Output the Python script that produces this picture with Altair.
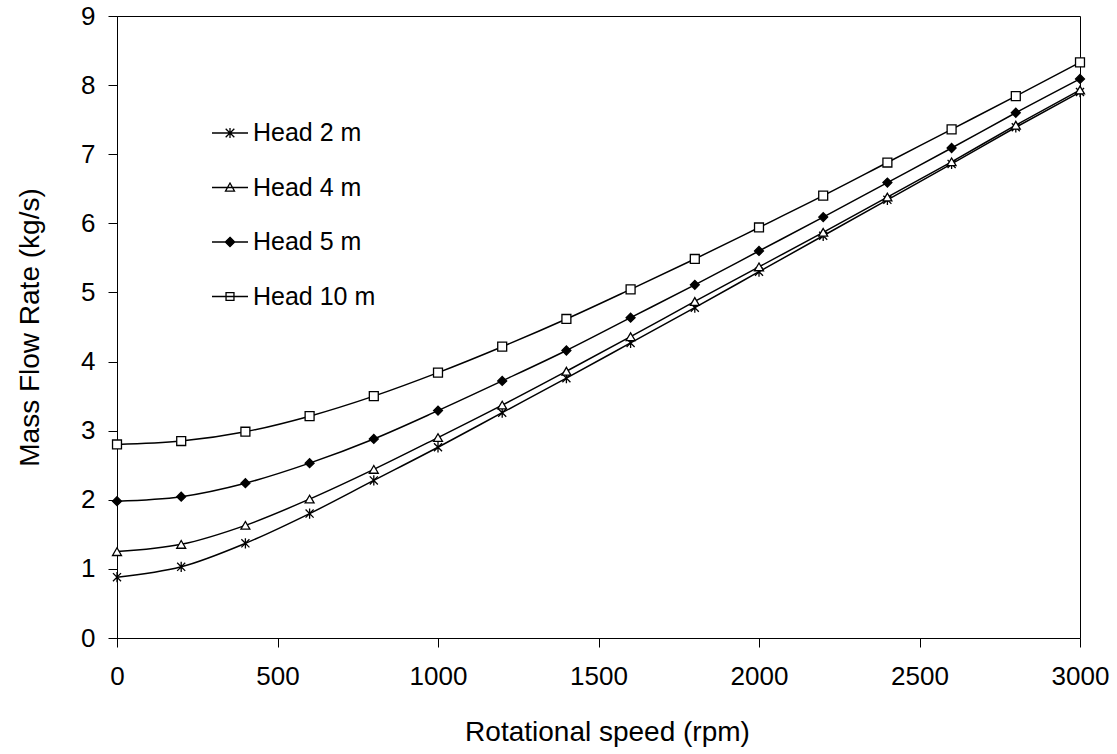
import altair as alt
import pandas as pd

rpm = [0, 200, 400, 600, 800, 1000, 1200, 1400, 1600, 1800, 2000, 2200, 2400, 2600, 2800, 3000]
head_2 = [0.88, 1.03, 1.37, 1.80, 2.28, 2.76, 3.26, 3.76, 4.27, 4.78, 5.30, 5.82, 6.34, 6.86, 7.39, 7.90]
head_4 = [1.25, 1.355, 1.63, 2.01, 2.44, 2.90, 3.37, 3.86, 4.36, 4.87, 5.37, 5.87, 6.38, 6.89, 7.42, 7.93]
head_5 = [1.98, 2.045, 2.24, 2.53, 2.88, 3.29, 3.72, 4.16, 4.635, 5.11, 5.60, 6.09, 6.59, 7.09, 7.60, 8.09]
head_10 = [2.80, 2.85, 2.985, 3.21, 3.50, 3.84, 4.215, 4.616, 5.045, 5.484, 5.94, 6.40, 6.88, 7.36, 7.84, 8.33]

series_names = ["Head 2 m", "Head 4 m", "Head 5 m", "Head 10 m"]
series_values = [head_2, head_4, head_5, head_10]

rows = []
for name, vals in zip(series_names, series_values):
    for r, v in zip(rpm, vals):
        rows.append({"rpm": r, "flow": v, "series": name})
df = pd.DataFrame(rows)

FONT = "Liberation Sans"

chart_shapes = [
    "M0,-1.15V1.15M-0.9,-0.9L0.9,0.9M-0.9,0.9L0.9,-0.9",
    "triangle-up",
    "diamond",
    "square",
]
chart_fills = ["transparent", "white", "black", "white"]

legend_shapes = [
    "M-1,0H1M0,-0.28V0.28M-0.24,-0.24L0.24,0.24M-0.24,0.24L0.24,-0.24",
    "M-1,0H1M0,-0.25L0.25,0.2H-0.25Z",
    "M-1,0H1M0,-0.26L0.26,0L0,0.26L-0.26,0Z",
    "M-1,0H1M-0.22,-0.22H0.22V0.22H-0.22Z",
]
legend_fills = ["transparent", "transparent", "black", "transparent"]
legend_strokes = ["black", "black", "black", "black"]

x_enc = alt.X(
    "rpm:Q",
    scale=alt.Scale(domain=[0, 3000], nice=False),
    axis=alt.Axis(
        values=[0, 500, 1000, 1500, 2000, 2500, 3000],
        format="d",
        title="Rotational speed (rpm)",
        grid=False,
        tickSize=9,
        labelPadding=16,
        labelFlush=False,
        labelOverlap=False,
        titleX=490,
        titleY=102,
        titleBaseline="alphabetic",
    ),
)
y_enc = alt.Y(
    "flow:Q",
    scale=alt.Scale(domain=[0, 9], nice=False),
    axis=alt.Axis(
        values=list(range(0, 10)),
        format="d",
        title="Mass Flow Rate (kg/s)",
        grid=False,
        tickSize=9,
        labelPadding=13,
        labelFlush=False,
        labelOverlap=False,
        titleX=-79,
        titleY=311,
        titleAngle=-90,
        titleAlign="center",
        titleBaseline="alphabetic",
    ),
)

base = alt.Chart(df)

lines = base.mark_line(interpolate="monotone", color="black", strokeWidth=1.5).encode(
    x=x_enc, y=y_enc, detail="series:N"
)

points = base.mark_point(filled=True, stroke="black", strokeWidth=1.3, size=80, opacity=1).encode(
    x=x_enc,
    y=y_enc,
    shape=alt.Shape("series:N", scale=alt.Scale(domain=series_names, range=chart_shapes), legend=None),
    fill=alt.Fill("series:N", scale=alt.Scale(domain=series_names, range=chart_fills), legend=None),
)

leg = alt.Legend(
    title=None,
    orient="none",
    legendX=94,
    legendY=98,
    padding=0,
    symbolSize=1296,
    symbolStrokeWidth=1.3,
    symbolStrokeColor="black",
    symbolOpacity=1,
    labelFontSize=25,
    labelFont=FONT,
    labelColor="black",
    labelOffset=4,
    rowPadding=22.5,
)

legend_layer = base.mark_point(filled=True, strokeWidth=1.3, opacity=1).encode(
    x=x_enc,
    y=y_enc,
    shape=alt.Shape("series:N", scale=alt.Scale(domain=series_names, range=legend_shapes), legend=leg),
    fill=alt.Fill("series:N", scale=alt.Scale(domain=series_names, range=legend_fills), legend=leg),
    stroke=alt.Stroke("series:N", scale=alt.Scale(domain=series_names, range=legend_strokes), legend=leg),
    strokeWidth=alt.value(1.3),
).transform_filter("false")

chart = (
    alt.layer(lines, points, legend_layer)
    .resolve_scale(shape="independent", fill="independent", stroke="independent")
    .properties(
        width=963,
        height=622,
        autosize=alt.AutoSizeParams(type="none"),
        padding={"left": 117, "top": 16, "right": 37, "bottom": 116},
        background="white",
    )
    .configure_view(stroke="black", strokeWidth=1)
    .configure_axis(
        domainColor="black",
        domainWidth=1,
        tickColor="black",
        tickWidth=1,
        labelFont=FONT,
        labelFontSize=26,
        labelColor="black",
        titleFont=FONT,
        titleFontSize=28,
        titleFontWeight="normal",
        titleColor="black",
    )
)

chart.save("out.html", embed_options={"renderer": "svg", "actions": False})
